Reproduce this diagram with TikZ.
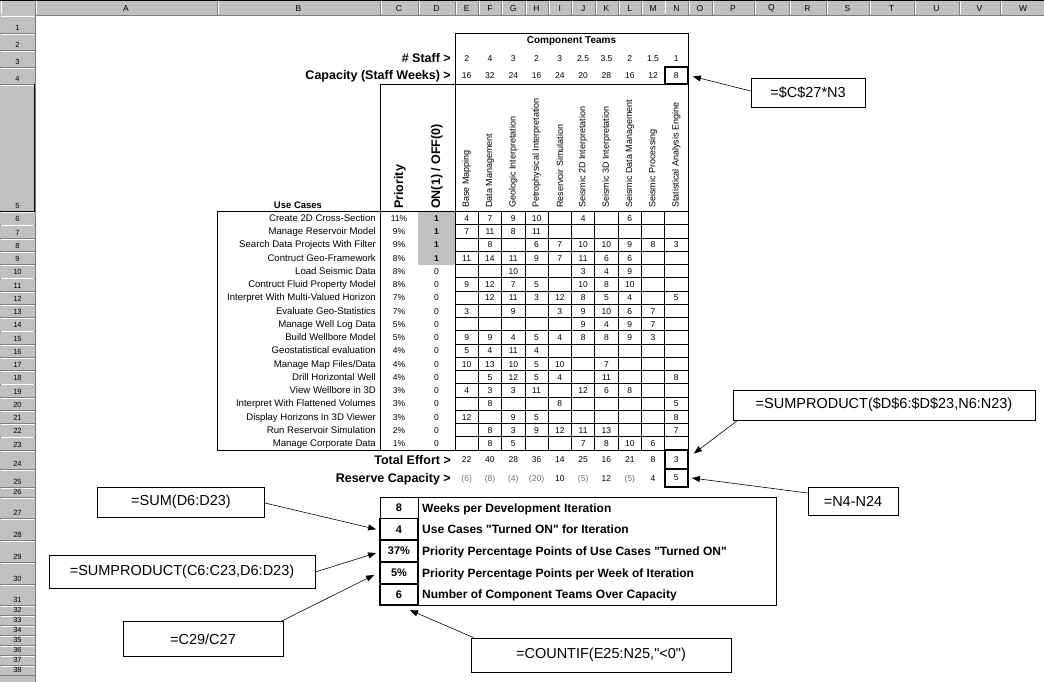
\documentclass[tikz,border=0pt]{standalone}
\usepackage{fontspec}
\setmainfont{Liberation Sans}
% same face without the TeX quote mapping, for straight quotes
\newfontfamily\rawsans{Liberation Sans}
\usetikzlibrary{arrows.meta,calc}

\definecolor{chrome}{HTML}{C0C0C0}
\definecolor{chromeedge}{HTML}{808080}
\definecolor{onshade}{HTML}{C0C0C0}
\definecolor{deficit}{HTML}{707070}

% straight double quote, as typed in a spreadsheet
\newcommand{\sq}{{\rawsans\symbol{34}}}

% one row of the use-case matrix: row, label, priority, on/off, efforts E..N (0 = blank)
\newcommand{\usecaserow}[5]{%
  \pgfmathsetmacro{\ucy}{211.5+(#1-6)*13.25+9.8}%
  \node[uclabel] (uc-#1) at (376,\ucy) {#2};
  \node[num] (pri-#1) at (399,\ucy) {#3\%};
  \node[num] (on-#1) at (436.5,\ucy) {#4};
  \foreach \v [count=\c from 0] in {#5} {%
    \ifnum\v>0
      \node[num] (eff-#1-\c) at ({455+(\c+0.5)*23.3},\ucy) {\v};
    \fi
  }%
}

\begin{document}
\begin{tikzpicture}[x=1pt,y=-1pt,
  colletter/.style={font=\fontsize{8.5}{9}\selectfont, inner sep=0pt},
  rowno/.style={font=\fontsize{7.5}{8}\selectfont, inner sep=0pt, anchor=base},
  rowlabel/.style={font=\fontsize{12.5}{14}\selectfont\bfseries, anchor=base east, inner sep=0pt},
  sumtext/.style={font=\fontsize{12}{14}\selectfont\bfseries, anchor=base west, inner sep=0pt},
  sumval/.style={font=\fontsize{11}{13}\selectfont\bfseries, inner sep=0pt, minimum width=38pt, minimum height=21.5pt},
  num/.style={font=\fontsize{8.5}{10}\selectfont, anchor=base, inner sep=0pt},
  uclabel/.style={font=\fontsize{9.6}{10}\selectfont, anchor=base east, inner sep=0pt},
  teamlabel/.style={font=\fontsize{9}{10}\selectfont, rotate=90, anchor=west, inner sep=0pt},
  vhead/.style={font=\fontsize{12.5}{14}\selectfont\bfseries, rotate=90, anchor=west, inner sep=0pt},
  heavybox/.style={draw=black, line width=1.8pt},
  callout/.style={draw=black, fill=white, line width=0.7pt, inner sep=0pt, font=\fontsize{14.5}{16}\selectfont},
  pointer/.style={draw=black, line width=0.6pt, -{Triangle[length=8pt,width=6pt]}},
  rule/.style={draw=black, line width=0.8pt},
]
\useasboundingbox (0,0) rectangle (1044,682);
\fill[white] (0,0) rectangle (1044,682);

% ---- column header strip ----
\fill[chrome] (0,0) rectangle (1044,15);
\foreach \nm/\l/\r in {A/35/217, B/217/380, C/380/418, D/418/455,
  E/455/478.3, F/478.3/501.6, G/501.6/524.9, H/524.9/548.2, I/548.2/571.5,
  J/571.5/594.8, K/594.8/618.1, L/618.1/641.4, M/641.4/664.7, N/664.7/688,
  O/688/712, P/712/754, Q/754/789, R/789/826, S/826/869, T/869/914,
  U/914/959, V/959/1000, W/1000/1046} {
  \draw[chromeedge] (\r,0) -- (\r,15);
  \draw[white] (\l+0.9,1.5) -- (\l+0.9,14);
  \node[colletter] (col-\nm) at ({(\l+\r)/2},8.5) {\nm};
}
\draw[white] (0.9,1.5) -- (0.9,14);
\draw[chromeedge] (35,0) -- (35,15);
\draw[chromeedge] (0,15) -- (1044,15);
\draw[black, line width=1.2pt] (0,0.6) -- (1044,0.6);

% ---- row header strip ----
\fill[chrome] (0,15) rectangle (35,682);
\foreach \n/\t/\b in {1/15/33, 2/33/50, 3/50/67, 4/67/84, 5/84/211.5,
  24/450/469, 25/469/487, 26/487/497, 27/497/518.5, 28/518.5/540,
  29/540/562, 30/562/584, 31/584/605, 32/605/615, 33/615/625, 34/625/635,
  35/635/645, 36/645/655, 37/655/665, 38/665/675} {
  \draw[chromeedge] (0,\b) -- (35,\b);
  \draw[white] (1,\t+0.9) -- (34,\t+0.9);
  \node[rowno] (row-\n) at (17.5,\b-2.8) {\n};
}
\foreach \n in {6,...,23} {
  \pgfmathsetmacro{\rt}{211.5+(\n-6)*13.25}
  \pgfmathsetmacro{\rb}{\rt+13.25}
  \draw[chromeedge] (0,\rb) -- (35,\rb);
  \draw[white] (1,\rt+0.9) -- (34,\rt+0.9);
  \node[rowno] (row-\n) at (17.5,\rb-2.8) {\n};
}
\draw[chromeedge] (35,15) -- (35,682);
\draw[black, line width=1pt] (34.5,84) -- (34.5,211.5) -- (0,211.5);

% ---- shading of the active use cases ----
\fill[onshade] (418,211.5) rectangle (455,264.5);

% ---- team header block ----
\node[font=\fontsize{10}{12}\selectfont\bfseries, inner sep=0pt] (teams) at (571.5,41.5) {Component Teams};
\draw[rule] (455,33) -- (688,33);
\draw[rule] (455,33) -- (455,450);
\draw[rule] (688,33) -- (688,450);
\draw[rule] (380,84) -- (688,84);
\draw[rule] (380,84) -- (380,450);

\node[rowlabel] (staff-lbl) at (451,63) {\# Staff >};
\node[rowlabel] (cap-lbl) at (451,80) {Capacity (Staff Weeks) >};
\foreach \v [count=\c from 0] in {2,4,3,2,3,2.5,3.5,2,1.5,1}
  \node[num] (staff-\c) at ({455+(\c+0.5)*23.3},61.5) {\v};
\foreach \v [count=\c from 0] in {16,32,24,16,24,20,28,16,12}
  \node[num] (cap-\c) at ({455+(\c+0.5)*23.3},78.5) {\v};
\node[heavybox, num, anchor=center, minimum width=23.3pt, minimum height=17pt] (capN) at (676.35,75.5) {8};

% ---- rotated column headings ----
\node[vhead] (h-pri) at (400,209) {Priority};
\node[vhead] (h-on) at (437,209) {ON(1) / OFF(0)};
\node[font=\fontsize{9.5}{11}\selectfont\bfseries, inner sep=0pt] (h-uc) at (298,205.5) {Use Cases};
\foreach \t [count=\c from 0] in {Base Mapping, Data Management, Geologic Interpretation,
  Petrophysical Interpretation, Reservoir Simulation, Seismic 2D Interpretation,
  Seismic 3D Interpretation, Seismic Data Management, Seismic Processing,
  Statistical Analysis Engine}
  \node[teamlabel] (team-\c) at ({455+(\c+0.5)*23.3},208) {\t};

% ---- matrix grid ----
\draw[rule] (217,211.5) rectangle (455,450);
\foreach \k in {0,...,18}
  \draw[rule] (455,{211.5+\k*13.25}) -- (688,{211.5+\k*13.25});
\foreach \k in {1,...,9}
  \draw[rule] ({455+\k*23.3},211.5) -- ({455+\k*23.3},450);

% ---- use cases ----
\usecaserow{6}{Create 2D Cross-Section}{11}{\textbf{1}}{4,7,9,10,0,4,0,6,0,0}
\usecaserow{7}{Manage Reservoir Model}{9}{\textbf{1}}{7,11,8,11,0,0,0,0,0,0}
\usecaserow{8}{Search Data Projects With Filter}{9}{\textbf{1}}{0,8,0,6,7,10,10,9,8,3}
\usecaserow{9}{Contruct Geo-Framework}{8}{\textbf{1}}{11,14,11,9,7,11,6,6,0,0}
\usecaserow{10}{Load Seismic Data}{8}{0}{0,0,10,0,0,3,4,9,0,0}
\usecaserow{11}{Contruct Fluid Property Model}{8}{0}{9,12,7,5,0,10,8,10,0,0}
\usecaserow{12}{Interpret With Multi-Valued Horizon}{7}{0}{0,12,11,3,12,8,5,4,0,5}
\usecaserow{13}{Evaluate Geo-Statistics}{7}{0}{3,0,9,0,3,9,10,6,7,0}
\usecaserow{14}{Manage Well Log Data}{5}{0}{0,0,0,0,0,9,4,9,7,0}
\usecaserow{15}{Build Wellbore Model}{5}{0}{9,9,4,5,4,8,8,9,3,0}
\usecaserow{16}{Geostatistical evaluation}{4}{0}{5,4,11,4,0,0,0,0,0,0}
\usecaserow{17}{Manage Map Files/Data}{4}{0}{10,13,10,5,10,0,7,0,0,0}
\usecaserow{18}{Drill Horizontal Well}{4}{0}{0,5,12,5,4,0,11,0,0,8}
\usecaserow{19}{View Wellbore in 3D}{3}{0}{4,3,3,11,0,12,6,8,0,0}
\usecaserow{20}{Interpret With Flattened Volumes}{3}{0}{0,8,0,0,8,0,0,0,0,5}
\usecaserow{21}{Display Horizons In 3D Viewer}{3}{0}{12,0,9,5,0,0,0,0,0,8}
\usecaserow{22}{Run Reservoir Simulation}{2}{0}{0,8,3,9,12,11,13,0,0,7}
\usecaserow{23}{Manage Corporate Data}{1}{0}{0,8,5,0,0,7,8,10,6,0}

% ---- totals ----
\node[rowlabel] (tot-lbl) at (451,464) {Total Effort >};
\node[rowlabel] (res-lbl) at (451,482.5) {Reserve Capacity >};
\foreach \v [count=\c from 0] in {22,40,28,36,14,25,16,21,8}
  \node[num] (tot-\c) at ({455+(\c+0.5)*23.3},462.5) {\v};
\foreach \v/\col [count=\c from 0] in {(6)/deficit,(8)/deficit,(4)/deficit,(20)/deficit,
  10/black,(5)/deficit,12/black,(5)/deficit,4/black}
  \node[num, text=\col] (res-\c) at ({455+(\c+0.5)*23.3},481) {\v};
\node[heavybox, num, anchor=center, minimum width=23.3pt, minimum height=19pt] (effN) at (676.35,459.5) {3};
\node[heavybox, num, anchor=center, minimum width=23.3pt, minimum height=18pt] (resN) at (676.35,478) {5};

% ---- iteration summary ----
\draw[rule] (380,497) rectangle (776,605);
\node[sumval, draw=black, line width=0.8pt] (s27) at (399,507.75) {8};
\node[sumval, heavybox] (s28) at (399,529.25) {4};
\node[sumval, heavybox] (s29) at (399,551) {37\%};
\node[sumval, heavybox] (s30) at (399,573) {5\%};
\node[sumval, heavybox] (s31) at (399,594.5) {6};
\node[sumtext] (t27) at (422,512) {Weeks per Development Iteration};
\node[sumtext] (t28) at (422,533.5) {Use Cases \sq Turned ON\sq{} for Iteration};
\node[sumtext] (t29) at (422,555.3) {Priority Percentage Points of Use Cases \sq Turned ON\sq};
\node[sumtext] (t30) at (422,577.3) {Priority Percentage Points per Week of Iteration};
\node[sumtext] (t31) at (422,598.8) {Number of Component Teams Over Capacity};

% ---- formula callouts ----
\node[callout, minimum width=114pt, minimum height=29pt] (fA) at (808,93) {=\$C\$27*N3};
\node[callout, minimum width=302pt, minimum height=30pt] (fB) at (884,405) {=SUMPRODUCT(\$D\$6:\$D\$23,N6:N23)};
\node[callout, minimum width=90pt, minimum height=28pt] (fC) at (853,501) {=N4-N24};
\node[callout, minimum width=167pt, minimum height=30pt] (fD) at (181,502) {=SUM(D6:D23)};
\node[callout, minimum width=266pt, minimum height=33pt] (fE) at (182,572) {=SUMPRODUCT(C6:C23,D6:D23)};
\node[callout, minimum width=160pt, minimum height=35pt] (fF) at (203,639) {=C29/C27};
\node[callout, minimum width=260pt, minimum height=34pt] (fG) at (601,655) {=COUNTIF(E25:N25,\sq<0\sq)};

\draw[pointer] ($(fA.west)+(0,-2)$) -- ($(capN.east)+(4,1)$);
\draw[pointer] ($(fB.south west)+(5,0)$) -- ($(effN.east)+(5,-6)$);
\draw[pointer] ($(fC.west)+(0,-8)$) -- ($(resN.east)+(3,0)$);
\draw[pointer] ($(fD.east)+(0,1)$) -- ($(s28.west)+(-3,0)$);
\draw[pointer] (fE.east) -- ($(s29.west)+(-3,2)$);
\draw[pointer] ($(fF.north east)+(-2,0)$) -- ($(s30.west)+(-5,2)$);
\draw[pointer] ($(fG.north west)+(3,0)$) -- ($(s31.south)+(11,4)$);
\end{tikzpicture}
\end{document}
